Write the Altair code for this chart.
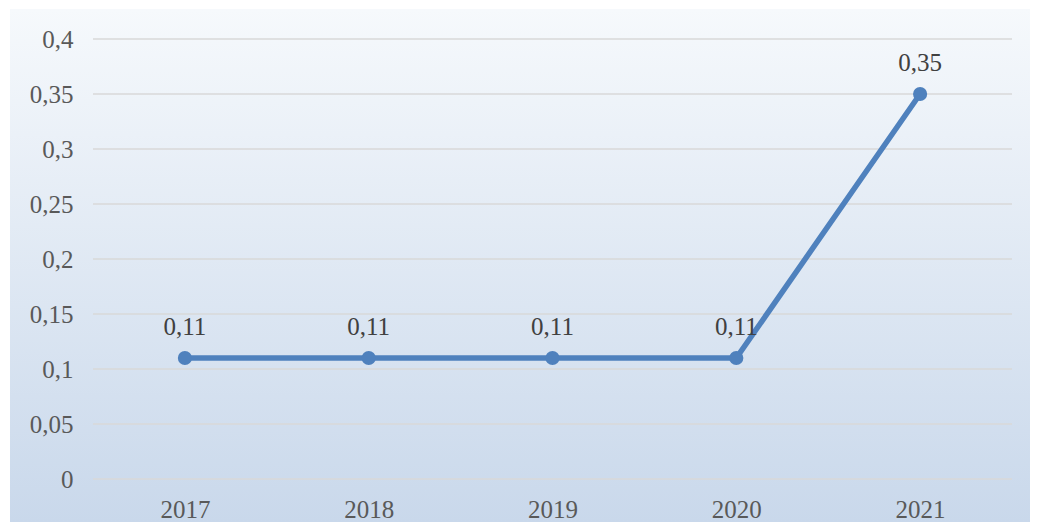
import altair as alt
import pandas as pd

years = ["2017", "2018", "2019", "2020", "2021"]
values = [0.11, 0.11, 0.11, 0.11, 0.35]
labels = ["0,11", "0,11", "0,11", "0,11", "0,35"]
y_ticks = [0, 0.05, 0.1, 0.15, 0.2, 0.25, 0.3, 0.35, 0.4]

df = pd.DataFrame({"year": years, "value": values, "label": labels})
grid_df = pd.DataFrame({"tick": y_ticks})

W, H = 919, 440
PL, PT, PR, PB = 85, 31, 18, 43
FONT = "Liberation Serif"
BLUE = "#4f81bd"

x_enc = alt.X("year:O", scale=alt.Scale(type="point", padding=0.5),
              axis=alt.Axis(title=None, labelAngle=0, ticks=False, domain=False, grid=False,
                            labelFont=FONT, labelFontSize=25, labelColor="#595959",
                            labelPadding=18, zindex=1))
y_scale = alt.Scale(domain=[0, 0.4], nice=False)

bg = alt.Chart(df).mark_rect(
    fill=alt.Gradient(gradient="linear", x1=0, x2=0, y1=0, y2=1,
                      stops=[alt.GradientStop(offset=0, color="#f6f9fc"),
                             alt.GradientStop(offset=1, color="#c9d8eb")]),
).encode(x=alt.value(-83), x2=alt.value(W + PR), y=alt.value(-30), y2=alt.value(H + PB))

grid = alt.Chart(grid_df).mark_rule(color="#d9d9d9", strokeWidth=1.5).encode(
    y=alt.Y("tick:Q", scale=y_scale,
            axis=alt.Axis(title=None, values=y_ticks, ticks=False, domain=False, grid=False,
                          labelExpr="replace(format(datum.value, '.2~f'), '.', ',')",
                          labelFont=FONT, labelFontSize=25, labelColor="#595959",
                          labelPadding=20, zindex=1))
)

base = alt.Chart(df).encode(x=x_enc, y=alt.Y("value:Q", scale=y_scale))

line = base.mark_line(color=BLUE, strokeWidth=5.5)
pts = base.mark_circle(color=BLUE, size=200, opacity=1)
txt = base.mark_text(font=FONT, fontSize=25, color="#404040", dy=-23,
                     baseline="alphabetic").encode(text="label:N")

chart = alt.layer(bg, grid, line, pts, txt).resolve_scale(y="shared").properties(
    width=W, height=H,
    padding={"left": PL, "top": PT, "right": PR, "bottom": PB},
    autosize=alt.AutoSizeParams(type="none"),
    background="white",
).configure_view(stroke=None)

chart.save("out.html", embed_options={"renderer": "svg", "actions": False})
